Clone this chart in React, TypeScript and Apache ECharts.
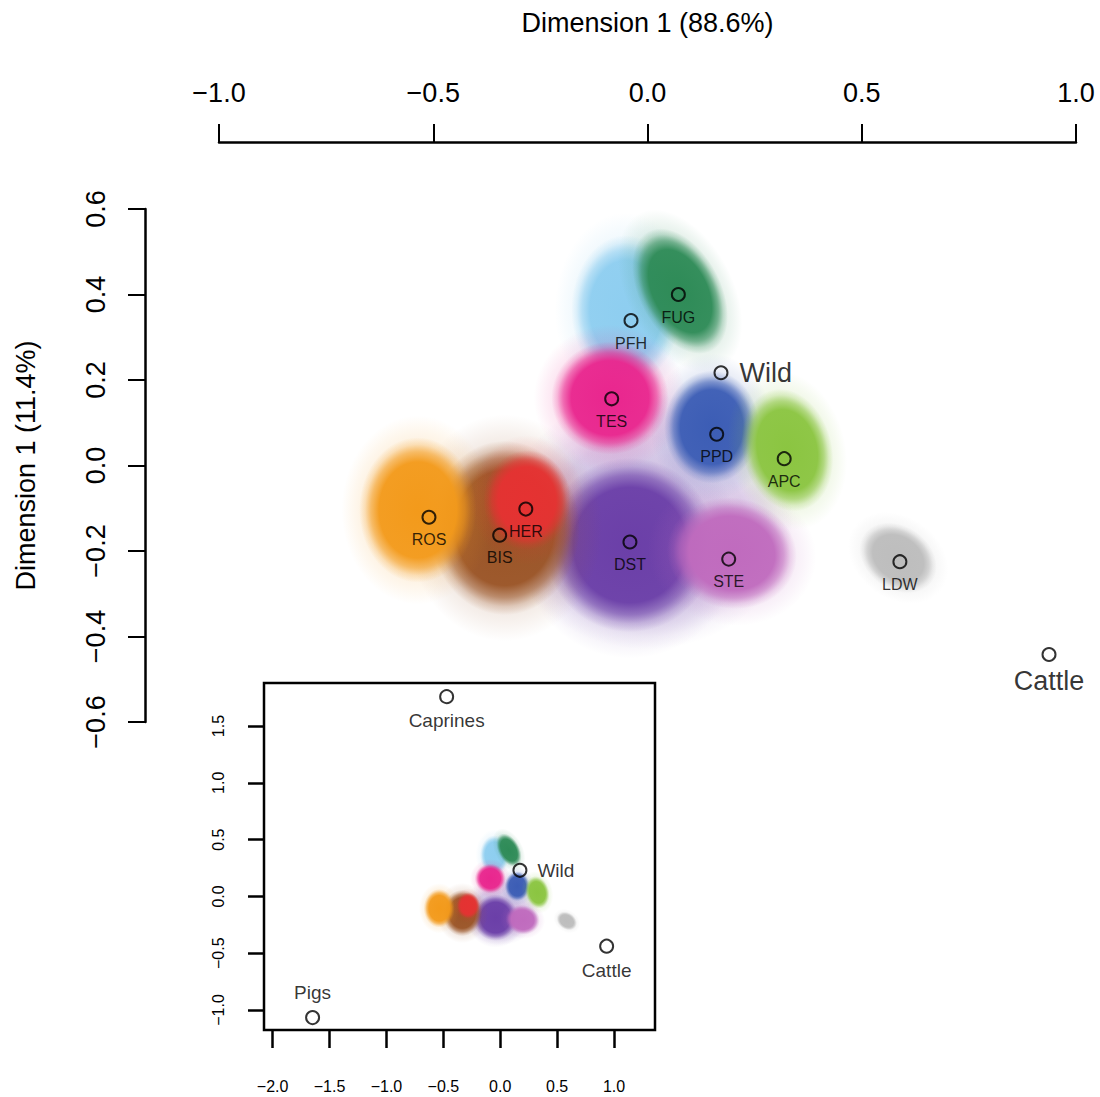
import React, { useEffect, useRef } from "react";
import * as echarts from "echarts";

// ---------- tick values ----------
const xTicks = [-1.0, -0.5, 0.0, 0.5, 1.0];
const yTicks = [-0.6, -0.4, -0.2, 0.0, 0.2, 0.4, 0.6];
const insetXTicks = [-2.0, -1.5, -1.0, -0.5, 0.0, 0.5, 1.0];
const insetYTicks = [-1.0, -0.5, 0.0, 0.5, 1.0, 1.5];

// ---------- group centroids (main plot) ----------
const groupNames = ["FUG", "PFH", "TES", "PPD", "APC", "ROS", "HER", "BIS", "DST", "STE", "LDW"];
const groupX = [0.072, -0.0385, -0.0836, 0.1615, 0.319, -0.51, -0.284, -0.345, -0.041, 0.1895, 0.589];
const groupY = [0.4, 0.339, 0.156, 0.073, 0.016, -0.121, -0.102, -0.163, -0.179, -0.219, -0.225];

// ---------- reference populations (main plot) ----------
const refNames = ["Wild", "Cattle"];
const refX = [0.1715, 0.937];
const refY = [0.217, -0.442];

// ---------- inset points ----------
const insetNames = ["Caprines", "Wild", "Cattle", "Pigs"];
const insetX = [-0.471, 0.173, 0.935, -1.649];
const insetY = [1.759, 0.23, -0.438, -1.067];

// ---------- sample clouds (draw order, bottom to top) ----------
const cloudNames = ["DST halo", "DST", "BIS", "ROS", "HER", "STE", "PFH", "TES", "FUG", "PPD", "APC", "LDW"];
const cloudX = [0.0, -0.041, -0.333, -0.536, -0.281, 0.197, -0.05, -0.0875, 0.076, 0.15, 0.326, 0.585];
const cloudY = [-0.13, -0.186, -0.146, -0.104, -0.081, -0.205, 0.364, 0.158, 0.408, 0.09, 0.036, -0.216];
const cloudRx = [0.34, 0.2, 0.175, 0.137, 0.102, 0.152, 0.128, 0.137, 0.158, 0.111, 0.145, 0.097];
const cloudRy = [0.3, 0.204, 0.204, 0.17, 0.117, 0.13, 0.175, 0.132, 0.095, 0.132, 0.105, 0.074];
const cloudAngle = [0, 0, 0, 0, 0, -10, 0, 0, -62, 0, -76, -35];
const cloudAlpha = [0.22, 1, 1, 1, 1, 1, 1, 1, 1, 1, 1, 1];
const cloudColors = [
  "#6B3FA8", "#6B3FA8", "#9A5426", "#F39A1B", "#E53232", "#C06BBE",
  "#8ECEF0", "#E9268E", "#2E8B57", "#3C5DB5", "#8BC541", "#BDBDBD",
];

const FONT = "'Liberation Sans', Arial, Helvetica, sans-serif";

function rgba(hex: string, a: number) {
  const n = parseInt(hex.slice(1), 16);
  return `rgba(${(n >> 16) & 255},${(n >> 8) & 255},${n & 255},${a})`;
}

const fmt = (v: number) => v.toFixed(1).replace("-", "\u2212");

const cloudData = cloudNames.map((name, i) => ({
  name,
  value: [cloudX[i], cloudY[i], cloudRx[i], cloudRy[i], cloudAngle[i]],
}));

function renderCloud(params: any, api: any) {
  const i = params.dataIndex;
  const c = api.coord([api.value(0), api.value(1)]);
  const s = api.size([api.value(2), api.value(3)]);
  const col = cloudColors[i];
  const a = cloudAlpha[i];
  const core = {
    type: "ellipse",
    shape: { cx: 0, cy: 0, rx: s[0], ry: s[1] },
    style: {
      fill: new echarts.graphic.RadialGradient(0.5, 0.5, 0.5, [
        { offset: 0, color: rgba(col, a) },
        { offset: 0.66, color: rgba(col, a * 0.96) },
        { offset: 0.8, color: rgba(col, a * 0.6) },
        { offset: 0.9, color: rgba(col, a * 0.22) },
        { offset: 1, color: rgba(col, 0) },
      ]),
    },
  };
  const halo = {
    type: "ellipse",
    shape: { cx: 0, cy: 0, rx: s[0] * 1.3, ry: s[1] * 1.3 },
    style: {
      fill: new echarts.graphic.RadialGradient(0.5, 0.5, 0.5, [
        { offset: 0, color: rgba(col, a * 0.2) },
        { offset: 0.6, color: rgba(col, a * 0.18) },
        { offset: 0.85, color: rgba(col, a * 0.07) },
        { offset: 1, color: rgba(col, 0) },
      ]),
    },
  };
  return {
    type: "group",
    x: c[0],
    y: c[1],
    rotation: (api.value(4) * Math.PI) / 180,
    children: a < 1 ? [core] : [halo, core],
  };
}

const circleStyle = { color: "rgba(0,0,0,0)", borderColor: "#000", borderWidth: 2 };

const refLabel: Record<string, any> = {
  Wild: { position: "right", distance: 11, fontSize: 27 },
  Cattle: { position: "bottom", distance: 6, fontSize: 27 },
};
const insetLabel: Record<string, any> = {
  Caprines: { position: "bottom", distance: 7 },
  Wild: { position: "right", distance: 10 },
  Cattle: { position: "bottom", distance: 7 },
  Pigs: { position: "top", distance: 8 },
};

const axisLineStyle = { color: "#000", width: 2.5 };

export default function App() {
  const ref = useRef<HTMLDivElement>(null);
  useEffect(() => {
    document.body.style.margin = "0";
    const chart = echarts.init(ref.current!, null, { renderer: "svg" });
    const option: any = {
      animation: false,
      backgroundColor: "#fff",
      textStyle: { fontFamily: FONT },
      grid: [
        { left: 219, top: 209, width: 857, height: 513, show: false },
        {
          left: 264, top: 683, width: 391, height: 347, show: true,
          borderColor: "#000", borderWidth: 2.5, backgroundColor: "#fff",
        },
      ],
      xAxis: [
        {
          gridIndex: 0, type: "value", position: "top", offset: 67, min: -1, max: 1,
          name: "Dimension 1 (88.6%)", nameLocation: "middle", nameGap: 106,
          nameTextStyle: { fontSize: 27, color: "#000", fontFamily: FONT },
          axisLine: { show: true, onZero: false, lineStyle: axisLineStyle },
          axisTick: { show: true, length: 18, customValues: xTicks, lineStyle: { color: "#000", width: 2 } },
          axisLabel: { customValues: xTicks, formatter: fmt, fontSize: 27, color: "#000", margin: 36, fontFamily: FONT },
          splitLine: { show: false },
        },
        {
          gridIndex: 1, type: "value", position: "bottom", min: -2.076, max: 1.36,
          axisLine: { show: false, onZero: false },
          axisTick: { show: true, length: 18, customValues: insetXTicks, lineStyle: { color: "#000", width: 2.5 } },
          axisLabel: { customValues: insetXTicks, formatter: fmt, fontSize: 16, color: "#000", margin: 48, fontFamily: FONT },
          splitLine: { show: false },
        },
      ],
      yAxis: [
        {
          gridIndex: 0, type: "value", position: "left", offset: 74, min: -0.6, max: 0.6,
          name: "Dimension 1 (11.4%)", nameLocation: "middle", nameGap: 106, nameRotate: 90,
          nameTextStyle: { fontSize: 27, color: "#000", fontFamily: FONT },
          axisLine: { show: true, onZero: false, lineStyle: axisLineStyle },
          axisTick: { show: true, length: 17, customValues: yTicks, lineStyle: { color: "#000", width: 2 } },
          axisLabel: { customValues: yTicks, formatter: fmt, fontSize: 27, color: "#000", margin: 36, rotate: 90, fontFamily: FONT },
          splitLine: { show: false },
        },
        {
          gridIndex: 1, type: "value", position: "left", min: -1.176, max: 1.879,
          axisLine: { show: false, onZero: false },
          axisTick: { show: true, length: 16, customValues: insetYTicks, lineStyle: { color: "#000", width: 2.5 } },
          axisLabel: { customValues: insetYTicks, formatter: fmt, fontSize: 16, color: "#000", margin: 38, rotate: 90, fontFamily: FONT },
          splitLine: { show: false },
        },
      ],
      series: [
        {
          type: "custom", xAxisIndex: 0, yAxisIndex: 0, z: 2, clip: false,
          renderItem: renderCloud, data: cloudData, silent: true,
        },
        {
          type: "custom", xAxisIndex: 1, yAxisIndex: 1, z: 2, clip: false,
          renderItem: renderCloud, data: cloudData, silent: true,
        },
        {
          type: "scatter", xAxisIndex: 0, yAxisIndex: 0, z: 4, clip: false,
          symbol: "circle", symbolSize: 13, itemStyle: circleStyle,
          label: { show: true, position: "bottom", distance: 7, formatter: "{b}", fontSize: 16, color: "#000", fontFamily: FONT },
          data: groupNames.map((n, i) => ({ name: n, value: [groupX[i], groupY[i]] })),
        },
        {
          type: "scatter", xAxisIndex: 0, yAxisIndex: 0, z: 4, clip: false,
          symbol: "circle", symbolSize: 13, itemStyle: circleStyle,
          label: { show: true, formatter: "{b}", color: "#000", fontFamily: FONT },
          data: refNames.map((n, i) => ({ name: n, value: [refX[i], refY[i]], label: refLabel[n] })),
        },
        {
          type: "scatter", xAxisIndex: 1, yAxisIndex: 1, z: 4, clip: false,
          symbol: "circle", symbolSize: 13, itemStyle: circleStyle,
          label: { show: true, formatter: "{b}", fontSize: 19, color: "#000", fontFamily: FONT },
          data: insetNames.map((n, i) => ({ name: n, value: [insetX[i], insetY[i]], label: insetLabel[n] })),
        },
      ],
    };
    chart.setOption(option);
    return () => chart.dispose();
  }, []);
  return <div ref={ref} style={{ width: 1100, height: 1097 }} />;
}
